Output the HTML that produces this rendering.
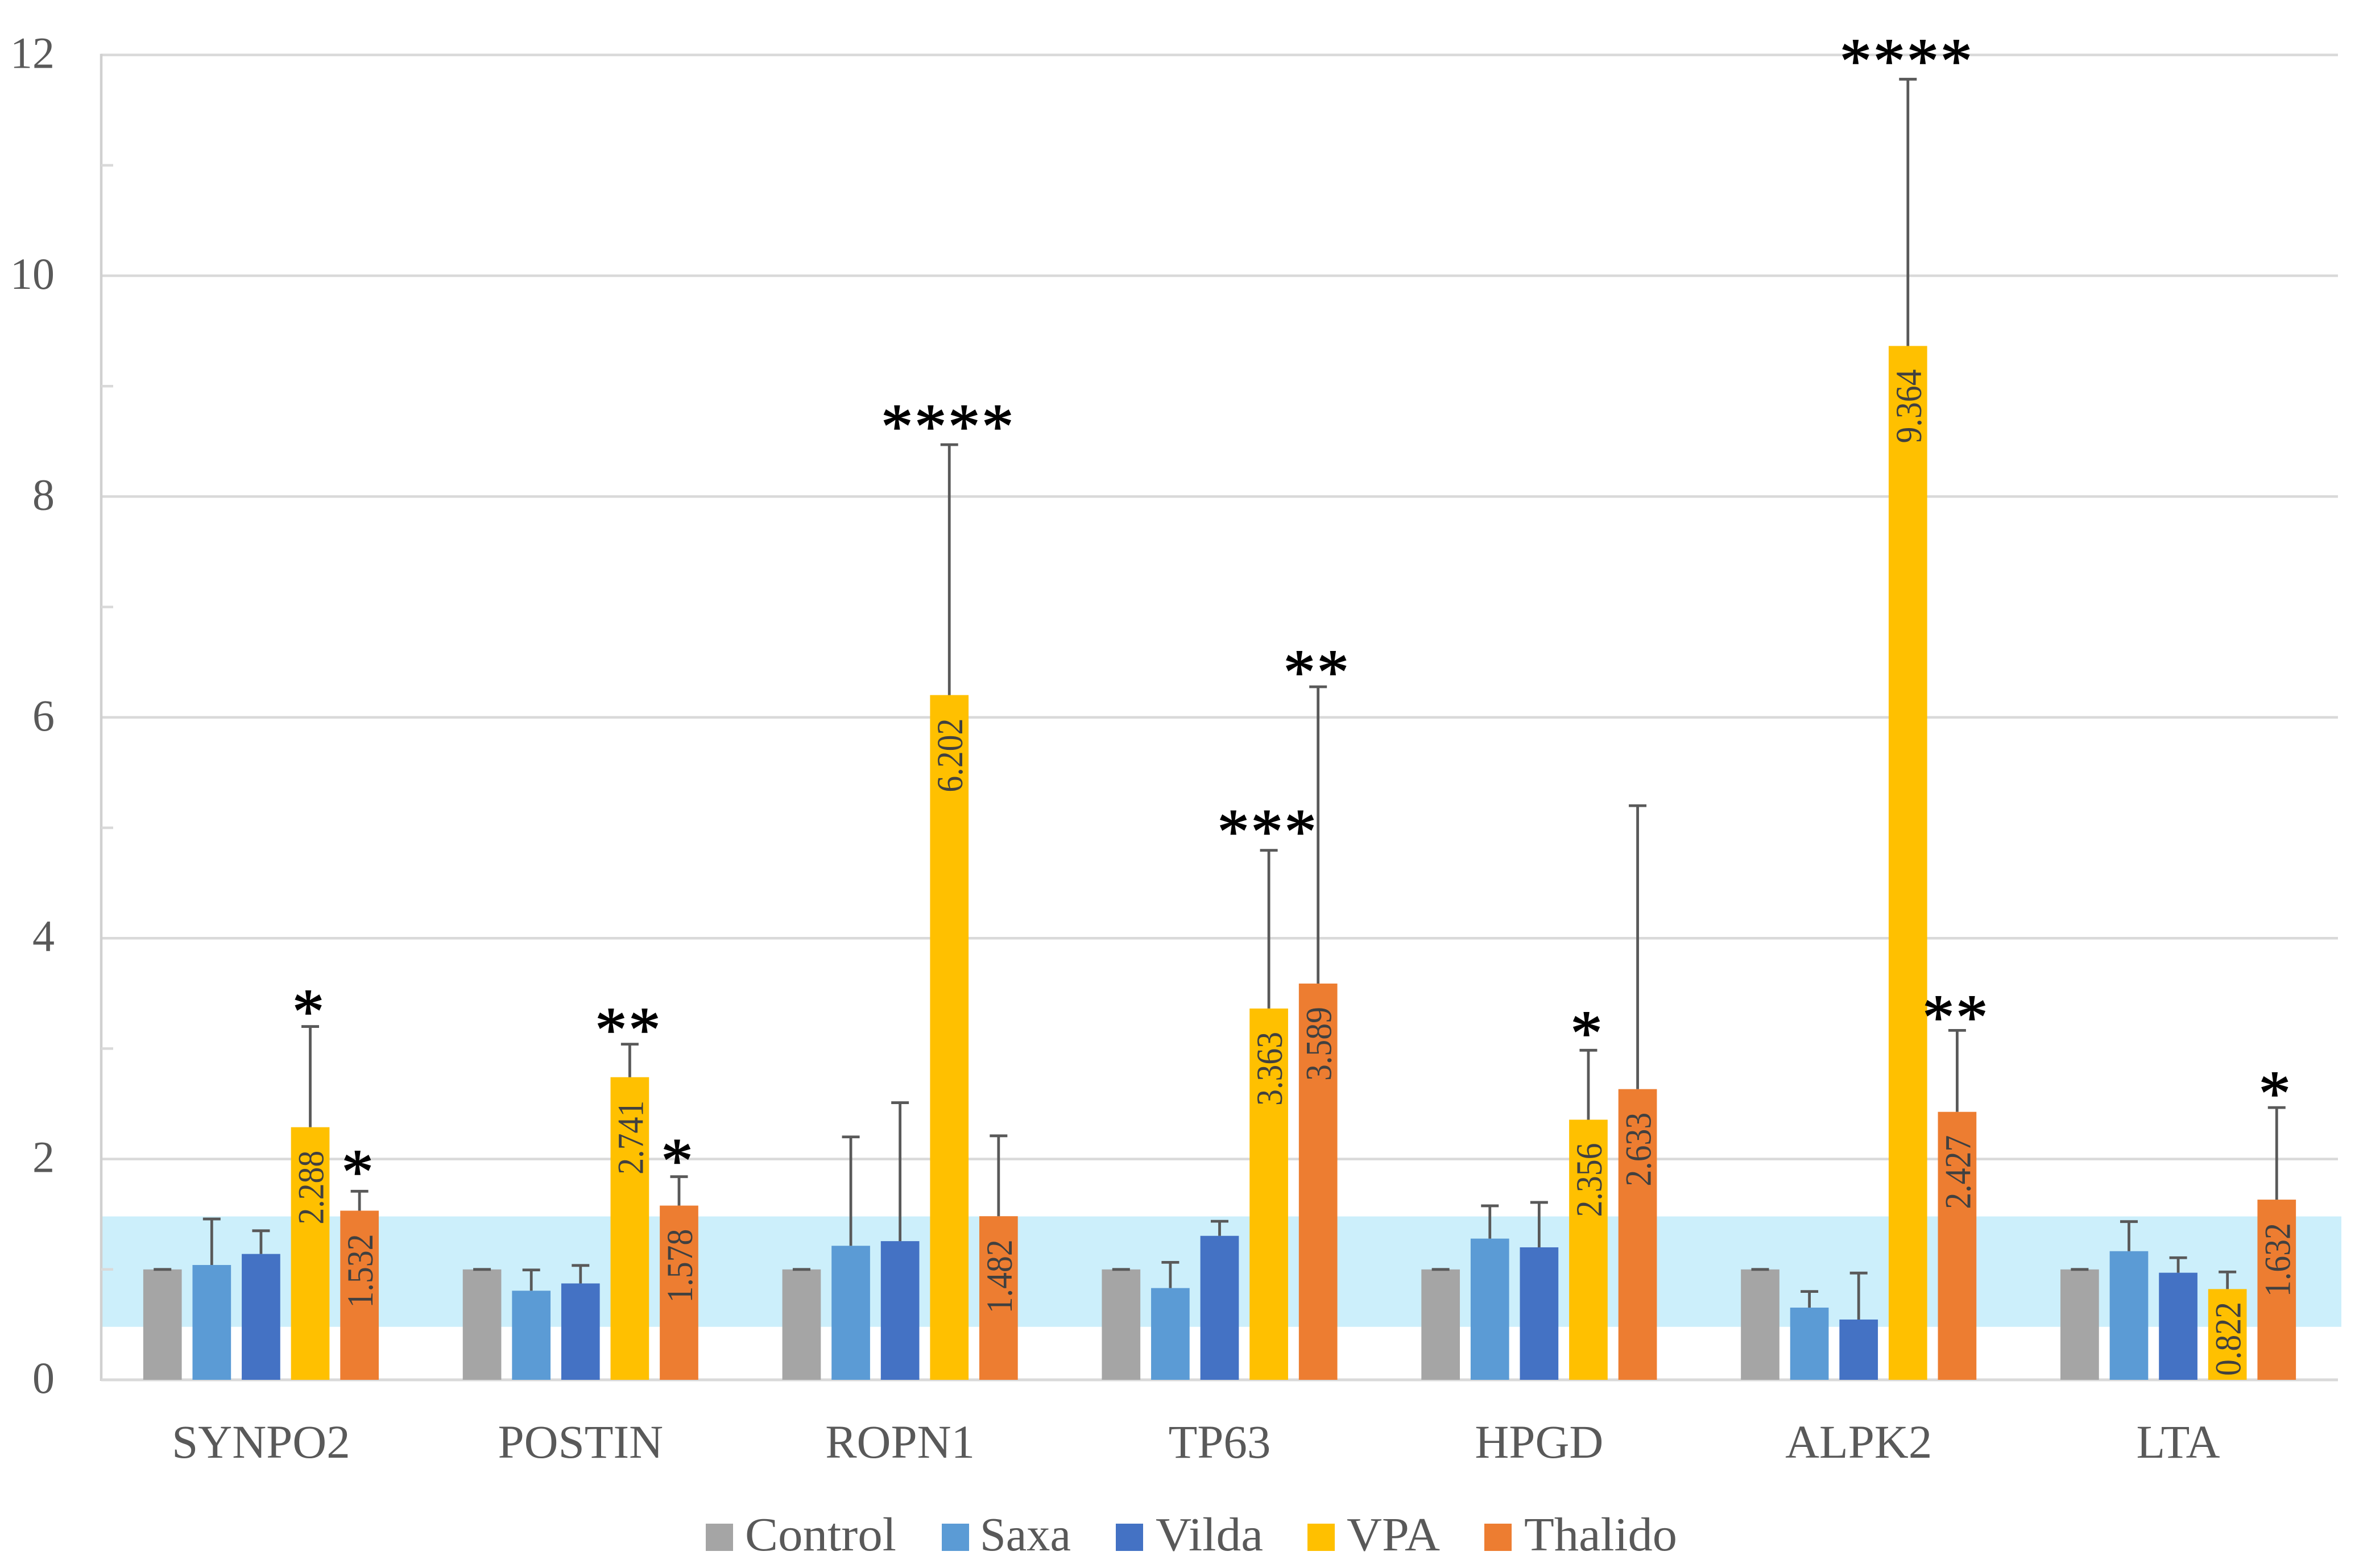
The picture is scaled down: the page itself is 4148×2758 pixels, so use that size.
<!DOCTYPE html>
<html lang="en">
<head>
<meta charset="utf-8">
<title>Gene expression bar chart</title>
<style>
html,body{margin:0;padding:0;background:#fff;}
svg{display:block;}
text{font-family:"Liberation Serif","DejaVu Serif",serif;}
</style>
</head>
<body>
<svg id="chart" xmlns="http://www.w3.org/2000/svg" width="4148" height="2758" viewBox="0 0 4148 2758">
  <rect x="0" y="0" width="4148" height="2758" fill="#fff"/>
  <g id="grid"></g>
  <g id="band"></g>
  <g id="axes"></g>
  <g id="bars"></g>
  <g id="errs"></g>
  <g id="labels"></g>
  <g id="stars"></g>
  <g id="legend" font-size="84" fill="#595959">
    <g>
      <rect x="1241" y="2680" width="48" height="48" fill="#a5a5a5"/>
      <text x="1310" y="2727" textLength="266" lengthAdjust="spacingAndGlyphs">Control</text>
    </g>
    <g>
      <rect x="1656" y="2680" width="48" height="48" fill="#5b9bd5"/>
      <text x="1723" y="2727" textLength="160" lengthAdjust="spacingAndGlyphs">Saxa</text>
    </g>
    <g>
      <rect x="1962" y="2680" width="48" height="48" fill="#4472c4"/>
      <text x="2032" y="2727" textLength="189" lengthAdjust="spacingAndGlyphs">Vilda</text>
    </g>
    <g>
      <rect x="2299" y="2680" width="48" height="48" fill="#ffc000"/>
      <text x="2368" y="2727" textLength="164" lengthAdjust="spacingAndGlyphs">VPA</text>
    </g>
    <g>
      <rect x="2610" y="2680" width="48" height="48" fill="#ed7d31"/>
      <text x="2680" y="2727" textLength="269" lengthAdjust="spacingAndGlyphs">Thalido</text>
    </g>
  </g>
</svg>
<script>
// ---- chart data ----
const categories = ["SYNPO2","POSTIN","ROPN1","TP63","HPGD","ALPK2","LTA"];
const seriesNames = ["Control","Saxa","Vilda","VPA","Thalido"];
const controlValues = [1,1,1,1,1,1,1];
const saxaValues = [1.04,0.807,1.214,0.831,1.279,0.654,1.165];
const vildaValues = [1.14,0.873,1.256,1.304,1.2,0.546,0.97];
const vpaValues = [2.288,2.741,6.202,3.363,2.356,9.364,0.822];
const thalidoValues = [1.532,1.578,1.482,3.589,2.633,2.427,1.632];
const controlErrTops = [1,1,1,1,1,1,1];
const saxaErrTops = [1.457,0.995,2.2,1.064,1.576,0.8,1.433];
const vildaErrTops = [1.35,1.036,2.51,1.436,1.607,0.967,1.106];
const vpaErrTops = [3.2,3.04,8.47,4.796,2.985,11.78,0.977];
const thalidoErrTops = [1.708,1.84,2.21,6.277,5.2,3.165,2.466];
const yTickLabels = [0,2,4,6,8,10,12];
const yMinorTicks = [1,3,5,7,9,11];
const bandLow = 0.48;
const bandHigh = 1.48;
const starGroups = [0,0,1,1,2,3,3,4,5,5,6];
const starSeries = [3,4,3,4,3,3,4,3,3,4,4];
const starCounts = [1,1,2,1,4,3,2,1,4,2,1];
const starLevels = [3.4,1.95,3.237,2.05,8.7,5.03,6.475,3.205,12.01,3.35,2.66];

const allValues = [controlValues,saxaValues,vildaValues,vpaValues,thalidoValues];
const allErrTops = [controlErrTops,saxaErrTops,vildaErrTops,vpaErrTops,thalidoErrTops];
const seriesColors = ["#a5a5a5","#5b9bd5","#4472c4","#ffc000","#ed7d31"];
const labelledSeries = [3,4];

// ---- axis functions ----
const plotLeft = 178, plotRight = 4111, baseY = 2427, unitY = 194.2;
const groupW = (plotRight - plotLeft) / categories.length;
const barW = 67.7, barStep = 86.6;
function yScale(v){ return baseY - v * unitY; }
function groupCenter(g){ return plotLeft + groupW * (g + 0.5); }
function barCenter(g, s){ return groupCenter(g) + (s - (seriesNames.length - 1) / 2) * barStep; }

const NS = "http://www.w3.org/2000/svg";
function make(tag, parent, attrs){
  const el = document.createElementNS(NS, tag);
  for (const k in attrs) el.setAttribute(k, attrs[k]);
  document.getElementById(parent).appendChild(el);
  return el;
}
function slug(s){ return String(s).toLowerCase(); }

// gridlines and y ticks
yTickLabels.forEach(function(t){
  if (t !== 0) {
    const line = make("line", "grid", {x1:plotLeft, x2:plotRight, y1:yScale(t), y2:yScale(t), stroke:"#d9d9d9", "stroke-width":4.5});
    
    
  }
  const label = make("text", "axes", {x:96, y:yScale(t) + 23, "text-anchor":"end", "font-size":78, fill:"#595959"});
  
  
  label.textContent = t;
});

// blue reference band
const bandRect = make("rect", "band", {x:plotLeft, width:4117 - plotLeft, y:yScale(bandHigh), height:yScale(bandLow) - yScale(bandHigh), fill:"#cceffb"});



// axes
const yAxis = make("line", "axes", {x1:plotLeft, x2:plotLeft, y1:yScale(12) - 2, y2:baseY + 2, stroke:"#d0d0d0", "stroke-width":4.5});


yMinorTicks.forEach(function(t){
  const tick = make("line", "axes", {x1:plotLeft, x2:plotLeft + 21, y1:yScale(t), y2:yScale(t), stroke:"#d9d9d9", "stroke-width":4.5});
  
  
});

// category labels
categories.forEach(function(c, g){
  const label = make("text", "axes", {x:groupCenter(g), y:2564, "text-anchor":"middle", "font-size":83, fill:"#595959"});
  
  
  label.textContent = c;
});

// bars, error bars and value labels
allValues.forEach(function(values, s){
  values.forEach(function(v, g){
    const cx = barCenter(g, s);
    const top = yScale(v);
    const bar = make("rect", "bars", {x:cx - barW / 2, y:top, width:barW, height:baseY - top, fill:seriesColors[s]});
    
    

    const errTop = yScale(allErrTops[s][g]);
    const stem = make("line", "errs", {x1:cx, x2:cx, y1:top, y2:errTop, stroke:"#595959", "stroke-width":4.8});
    
    
    const cap = make("line", "errs", {x1:cx - 15.5, x2:cx + 15.5, y1:errTop, y2:errTop, stroke:"#595959", "stroke-width":4.8});
    
    

    if (labelledSeries.indexOf(s) >= 0) {
      const tx = cx + 23;
      const ty = Math.min(top + 171, baseY - 7);
      const label = make("text", "labels", {x:tx, y:ty, "text-anchor":"start", "font-size":65, fill:"#404040", textLength:130, lengthAdjust:"spacingAndGlyphs", transform:"rotate(-90 " + tx + " " + ty + ")"});
      
      
      label.textContent = v.toFixed(3);
    }
  });
});

// significance asterisks
starCounts.forEach(function(n, i){
  const x = barCenter(starGroups[i], starSeries[i]);
  const star = make("text", "stars", {x:x - 2, y:yScale(starLevels[i]) + 50, "text-anchor":"middle", "font-size":112, "letter-spacing":3, fill:"#000", stroke:"#000", "stroke-width":1.6});
  
  
  star.textContent = "*".repeat(n);
});

// baseline on top of the bars
const xAxis = make("line", "axes", {x1:plotLeft, x2:plotRight, y1:baseY, y2:baseY, stroke:"#d9d9d9", "stroke-width":5});


document.getElementById("chart").appendChild(document.getElementById("axes"));
document.getElementById("chart").appendChild(document.getElementById("bars"));
document.getElementById("chart").appendChild(document.getElementById("errs"));
document.getElementById("chart").appendChild(document.getElementById("labels"));
document.getElementById("chart").appendChild(document.getElementById("stars"));
</script>
</body>
</html>
